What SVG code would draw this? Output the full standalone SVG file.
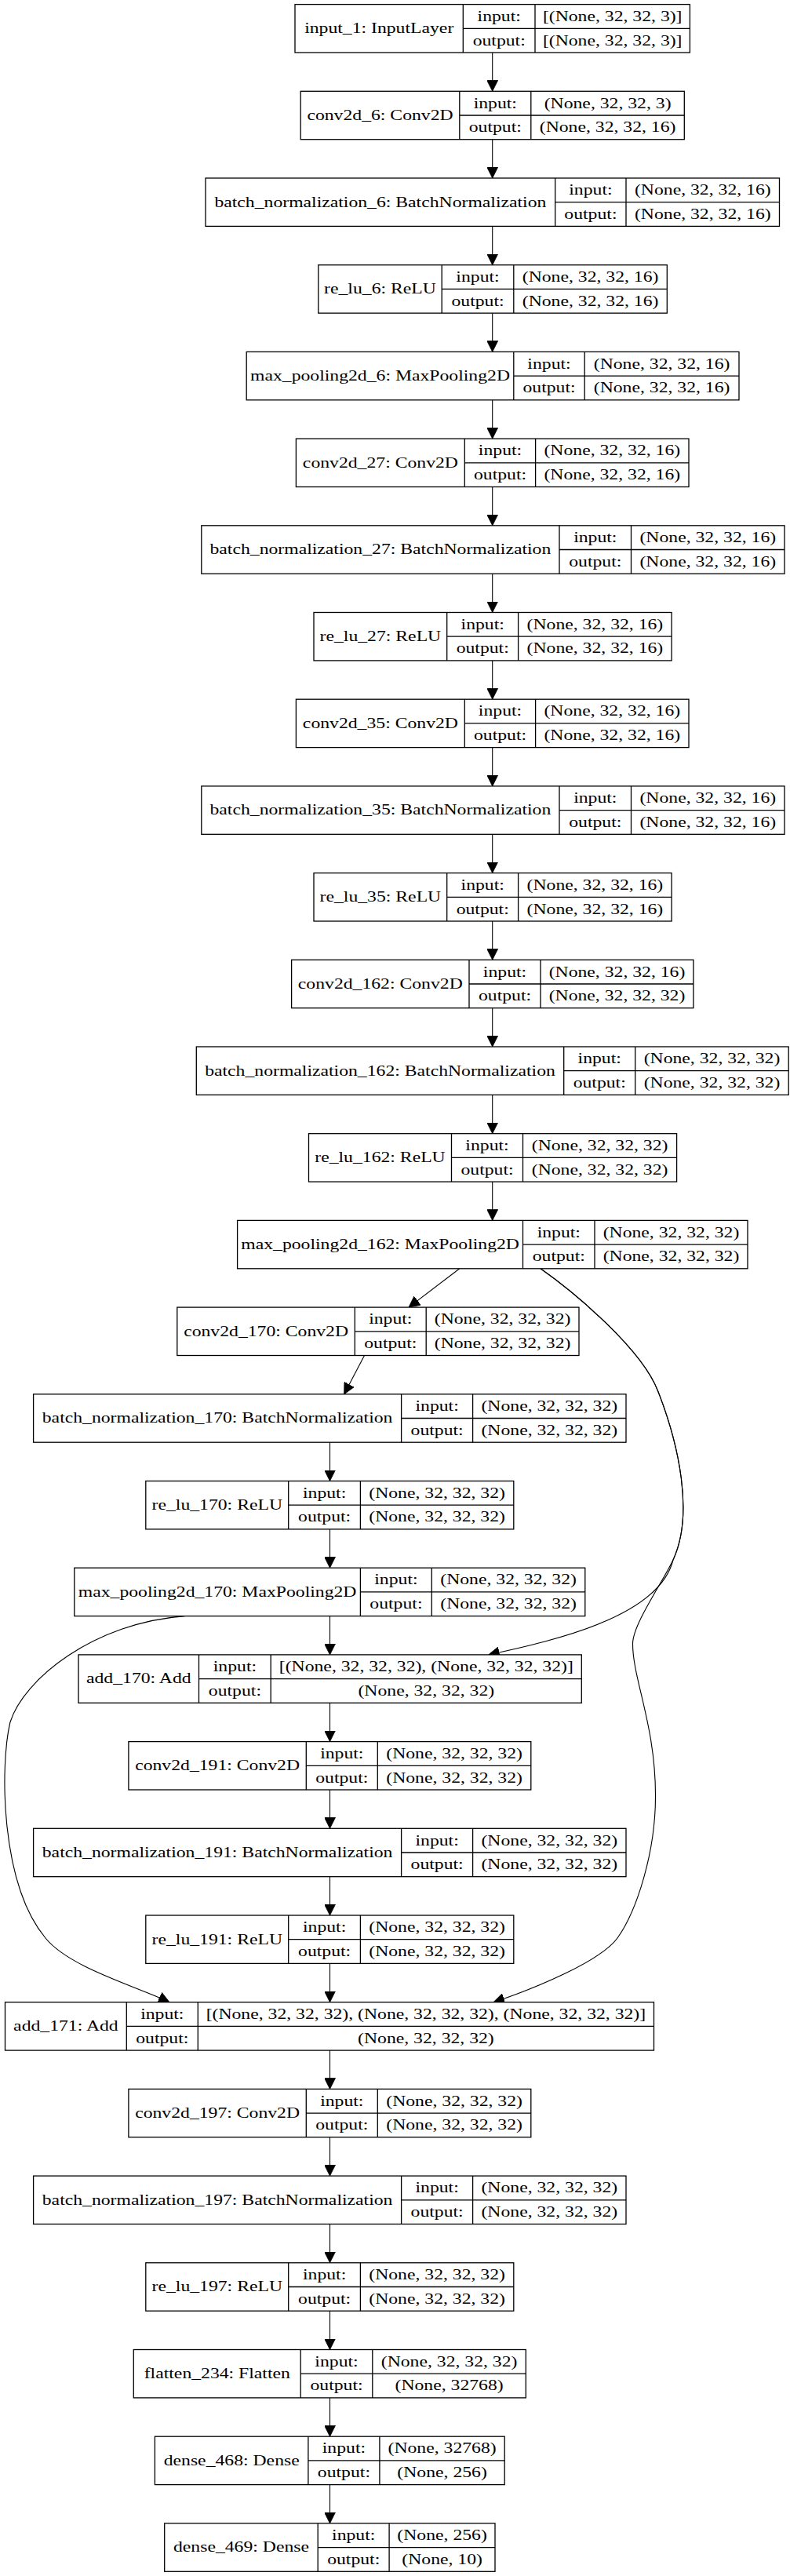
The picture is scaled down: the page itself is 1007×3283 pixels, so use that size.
<svg xmlns="http://www.w3.org/2000/svg" width="1007" height="3283" viewBox="0 0 1007 3283">
<defs>
<style>
.b{fill:#fff;stroke:#000;stroke-width:1.3}
.d{fill:none;stroke:#000;stroke-width:1.3}
.t{font-family:"Liberation Serif","Times New Roman",serif;font-size:18px;text-anchor:middle;fill:#000}
.e{fill:none;stroke:#000;stroke-width:1.1;marker-end:url(#ah)}
</style>
<marker id="ah" markerUnits="userSpaceOnUse" viewBox="0 0 14 14" markerWidth="14" markerHeight="14" refX="14" refY="7" orient="auto">
<path d="M0,0 L14,7 L0,14 z" fill="#000" stroke="#000" stroke-width="0.8"/>
</marker>
</defs>
<rect x="0" y="0" width="1007" height="3283" fill="#fff"/>

<g id="connectors">
<path class="e" d="M627.7,67 V116.3"/>
<path class="e" d="M627.7,177.7 V227"/>
<path class="e" d="M627.7,288.4 V337.7"/>
<path class="e" d="M627.7,399.1 V448.4"/>
<path class="e" d="M627.7,509.8 V559.1"/>
<path class="e" d="M627.7,620.5 V669.8"/>
<path class="e" d="M627.7,731.2 V780.5"/>
<path class="e" d="M627.7,841.9 V891.2"/>
<path class="e" d="M627.7,952.6 V1001.9"/>
<path class="e" d="M627.7,1063.3 V1112.6"/>
<path class="e" d="M627.7,1174 V1223.3"/>
<path class="e" d="M627.7,1284.7 V1334"/>
<path class="e" d="M627.7,1395.4 V1444.7"/>
<path class="e" d="M627.7,1506.1 V1555.4"/>
<path class="e" d="M585.8,1616.8 L521,1666.1"/>
<path class="e" d="M689,1616.8 C732,1647 818,1719 838.7,1773 C865,1840 885,1930 858,1988 C840,2060 710,2090 622.6,2108.9"/>
<path class="e" d="M689,1616.8 C732,1647 818,1719 838.7,1773 C865,1840 885,1930 858,1988 C845,2016 806.5,2070 806.5,2095 C806.5,2140 836,2200 835.5,2290 C835.5,2360 812,2435 787,2470 C765,2500 680,2535 629,2551.7"/>
<path class="e" d="M464.5,1727.5 L438.7,1776.8"/>
<path class="e" d="M420.5,1838.2 V1887.5"/>
<path class="e" d="M420.5,1948.9 V1998.2"/>
<path class="e" d="M420.5,2059.6 V2108.9"/>
<path class="e" d="M235.5,2059.6 C120,2068 30,2140 12.9,2195 C0,2250 0,2400 58,2470 C88,2507 170,2530 216,2551.7"/>
<path class="e" d="M420.5,2170.3 V2219.6"/>
<path class="e" d="M420.5,2281 V2330.3"/>
<path class="e" d="M420.5,2391.7 V2441"/>
<path class="e" d="M420.5,2502.4 V2551.7"/>
<path class="e" d="M420.5,2613.1 V2662.4"/>
<path class="e" d="M420.5,2723.8 V2773.1"/>
<path class="e" d="M420.5,2834.5 V2883.8"/>
<path class="e" d="M420.5,2945.2 V2994.5"/>
<path class="e" d="M420.5,3055.9 V3105.2"/>
<path class="e" d="M420.5,3166.6 V3215.9"/>
</g>

<g id="n1">
<rect class="b" x="376" y="5.6" width="503.4" height="61.4"/>
<path class="d" d="M590.3,5.6V67M682,5.6V67M590.3,36.3H879.4"/>
<text class="t" transform="translate(483.2 42.1) scale(1.317 1)">input_1: InputLayer</text>
<text class="t" transform="translate(636.2 26.8) scale(1.317 1)">input:</text>
<text class="t" transform="translate(636.2 57.5) scale(1.317 1)">output:</text>
<text class="t" transform="translate(780.7 26.8) scale(1.317 1)">[(None, 32, 32, 3)]</text>
<text class="t" transform="translate(780.7 57.5) scale(1.317 1)">[(None, 32, 32, 3)]</text>
</g>

<g id="n2">
<rect class="b" x="383.2" y="116.3" width="489.1" height="61.4"/>
<path class="d" d="M585.8,116.3V177.7M676.8,116.3V177.7M585.8,147H872.3"/>
<text class="t" transform="translate(484.5 152.8) scale(1.317 1)">conv2d_6: Conv2D</text>
<text class="t" transform="translate(631.3 137.5) scale(1.317 1)">input:</text>
<text class="t" transform="translate(631.3 168.2) scale(1.317 1)">output:</text>
<text class="t" transform="translate(774.6 137.5) scale(1.317 1)">(None, 32, 32, 3)</text>
<text class="t" transform="translate(774.6 168.2) scale(1.317 1)">(None, 32, 32, 16)</text>
</g>

<g id="n3">
<rect class="b" x="262" y="227" width="731.5" height="61.4"/>
<path class="d" d="M707.7,227V288.4M798,227V288.4M707.7,257.7H993.5"/>
<text class="t" transform="translate(484.9 263.5) scale(1.317 1)">batch_normalization_6: BatchNormalization</text>
<text class="t" transform="translate(752.9 248.2) scale(1.317 1)">input:</text>
<text class="t" transform="translate(752.9 278.9) scale(1.317 1)">output:</text>
<text class="t" transform="translate(895.8 248.2) scale(1.317 1)">(None, 32, 32, 16)</text>
<text class="t" transform="translate(895.8 278.9) scale(1.317 1)">(None, 32, 32, 16)</text>
</g>

<g id="n4">
<rect class="b" x="405.8" y="337.7" width="444.5" height="61.4"/>
<path class="d" d="M563.2,337.7V399.1M654.8,337.7V399.1M563.2,368.4H850.3"/>
<text class="t" transform="translate(484.5 374.2) scale(1.317 1)">re_lu_6: ReLU</text>
<text class="t" transform="translate(609 358.9) scale(1.317 1)">input:</text>
<text class="t" transform="translate(609 389.6) scale(1.317 1)">output:</text>
<text class="t" transform="translate(752.6 358.9) scale(1.317 1)">(None, 32, 32, 16)</text>
<text class="t" transform="translate(752.6 389.6) scale(1.317 1)">(None, 32, 32, 16)</text>
</g>

<g id="n5">
<rect class="b" x="314.2" y="448.4" width="627.8" height="61.4"/>
<path class="d" d="M654.8,448.4V509.8M745.2,448.4V509.8M654.8,479.1H942"/>
<text class="t" transform="translate(484.5 484.9) scale(1.317 1)">max_pooling2d_6: MaxPooling2D</text>
<text class="t" transform="translate(700 469.6) scale(1.317 1)">input:</text>
<text class="t" transform="translate(700 500.3) scale(1.317 1)">output:</text>
<text class="t" transform="translate(843.6 469.6) scale(1.317 1)">(None, 32, 32, 16)</text>
<text class="t" transform="translate(843.6 500.3) scale(1.317 1)">(None, 32, 32, 16)</text>
</g>

<g id="n6">
<rect class="b" x="377.4" y="559.1" width="500.6" height="61.4"/>
<path class="d" d="M592.3,559.1V620.5M682.6,559.1V620.5M592.3,589.8H878"/>
<text class="t" transform="translate(484.9 595.6) scale(1.317 1)">conv2d_27: Conv2D</text>
<text class="t" transform="translate(637.5 580.3) scale(1.317 1)">input:</text>
<text class="t" transform="translate(637.5 611) scale(1.317 1)">output:</text>
<text class="t" transform="translate(780.3 580.3) scale(1.317 1)">(None, 32, 32, 16)</text>
<text class="t" transform="translate(780.3 611) scale(1.317 1)">(None, 32, 32, 16)</text>
</g>

<g id="n7">
<rect class="b" x="256.8" y="669.8" width="743.2" height="61.4"/>
<path class="d" d="M713,669.8V731.2M804.5,669.8V731.2M713,700.5H1000"/>
<text class="t" transform="translate(484.9 706.3) scale(1.317 1)">batch_normalization_27: BatchNormalization</text>
<text class="t" transform="translate(758.8 691) scale(1.317 1)">input:</text>
<text class="t" transform="translate(758.8 721.7) scale(1.317 1)">output:</text>
<text class="t" transform="translate(902.3 691) scale(1.317 1)">(None, 32, 32, 16)</text>
<text class="t" transform="translate(902.3 721.7) scale(1.317 1)">(None, 32, 32, 16)</text>
</g>

<g id="n8">
<rect class="b" x="400" y="780.5" width="456.1" height="61.4"/>
<path class="d" d="M569.7,780.5V841.9M660.6,780.5V841.9M569.7,811.2H856.1"/>
<text class="t" transform="translate(484.9 817) scale(1.317 1)">re_lu_27: ReLU</text>
<text class="t" transform="translate(615.2 801.7) scale(1.317 1)">input:</text>
<text class="t" transform="translate(615.2 832.4) scale(1.317 1)">output:</text>
<text class="t" transform="translate(758.4 801.7) scale(1.317 1)">(None, 32, 32, 16)</text>
<text class="t" transform="translate(758.4 832.4) scale(1.317 1)">(None, 32, 32, 16)</text>
</g>

<g id="n9">
<rect class="b" x="377.4" y="891.2" width="500.6" height="61.4"/>
<path class="d" d="M592.3,891.2V952.6M682.6,891.2V952.6M592.3,921.9H878"/>
<text class="t" transform="translate(484.9 927.7) scale(1.317 1)">conv2d_35: Conv2D</text>
<text class="t" transform="translate(637.5 912.4) scale(1.317 1)">input:</text>
<text class="t" transform="translate(637.5 943.1) scale(1.317 1)">output:</text>
<text class="t" transform="translate(780.3 912.4) scale(1.317 1)">(None, 32, 32, 16)</text>
<text class="t" transform="translate(780.3 943.1) scale(1.317 1)">(None, 32, 32, 16)</text>
</g>

<g id="n10">
<rect class="b" x="256.8" y="1001.9" width="743.2" height="61.4"/>
<path class="d" d="M713,1001.9V1063.3M804.5,1001.9V1063.3M713,1032.6H1000"/>
<text class="t" transform="translate(484.9 1038.4) scale(1.317 1)">batch_normalization_35: BatchNormalization</text>
<text class="t" transform="translate(758.8 1023.1) scale(1.317 1)">input:</text>
<text class="t" transform="translate(758.8 1053.8) scale(1.317 1)">output:</text>
<text class="t" transform="translate(902.3 1023.1) scale(1.317 1)">(None, 32, 32, 16)</text>
<text class="t" transform="translate(902.3 1053.8) scale(1.317 1)">(None, 32, 32, 16)</text>
</g>

<g id="n11">
<rect class="b" x="400" y="1112.6" width="456.1" height="61.4"/>
<path class="d" d="M569.7,1112.6V1174M660.6,1112.6V1174M569.7,1143.3H856.1"/>
<text class="t" transform="translate(484.9 1149.1) scale(1.317 1)">re_lu_35: ReLU</text>
<text class="t" transform="translate(615.2 1133.8) scale(1.317 1)">input:</text>
<text class="t" transform="translate(615.2 1164.5) scale(1.317 1)">output:</text>
<text class="t" transform="translate(758.4 1133.8) scale(1.317 1)">(None, 32, 32, 16)</text>
<text class="t" transform="translate(758.4 1164.5) scale(1.317 1)">(None, 32, 32, 16)</text>
</g>

<g id="n12">
<rect class="b" x="371.6" y="1223.3" width="512.3" height="61.4"/>
<path class="d" d="M598,1223.3V1284.7M689,1223.3V1284.7M598,1254H883.9"/>
<text class="t" transform="translate(484.8 1259.8) scale(1.317 1)">conv2d_162: Conv2D</text>
<text class="t" transform="translate(643.5 1244.5) scale(1.317 1)">input:</text>
<text class="t" transform="translate(643.5 1275.2) scale(1.317 1)">output:</text>
<text class="t" transform="translate(786.5 1244.5) scale(1.317 1)">(None, 32, 32, 16)</text>
<text class="t" transform="translate(786.5 1275.2) scale(1.317 1)">(None, 32, 32, 32)</text>
</g>

<g id="n13">
<rect class="b" x="250.3" y="1334" width="754.9" height="61.4"/>
<path class="d" d="M718.7,1334V1395.4M809.7,1334V1395.4M718.7,1364.7H1005.2"/>
<text class="t" transform="translate(484.5 1370.5) scale(1.317 1)">batch_normalization_162: BatchNormalization</text>
<text class="t" transform="translate(764.2 1355.2) scale(1.317 1)">input:</text>
<text class="t" transform="translate(764.2 1385.9) scale(1.317 1)">output:</text>
<text class="t" transform="translate(907.5 1355.2) scale(1.317 1)">(None, 32, 32, 32)</text>
<text class="t" transform="translate(907.5 1385.9) scale(1.317 1)">(None, 32, 32, 32)</text>
</g>

<g id="n14">
<rect class="b" x="393.5" y="1444.7" width="469.1" height="61.4"/>
<path class="d" d="M575.5,1444.7V1506.1M666.5,1444.7V1506.1M575.5,1475.4H862.6"/>
<text class="t" transform="translate(484.5 1481.2) scale(1.317 1)">re_lu_162: ReLU</text>
<text class="t" transform="translate(621 1465.9) scale(1.317 1)">input:</text>
<text class="t" transform="translate(621 1496.6) scale(1.317 1)">output:</text>
<text class="t" transform="translate(764.6 1465.9) scale(1.317 1)">(None, 32, 32, 32)</text>
<text class="t" transform="translate(764.6 1496.6) scale(1.317 1)">(None, 32, 32, 32)</text>
</g>

<g id="n15">
<rect class="b" x="302.6" y="1555.4" width="650.4" height="61.4"/>
<path class="d" d="M666.5,1555.4V1616.8M758,1555.4V1616.8M666.5,1586.1H953"/>
<text class="t" transform="translate(484.6 1591.9) scale(1.317 1)">max_pooling2d_162: MaxPooling2D</text>
<text class="t" transform="translate(712.3 1576.6) scale(1.317 1)">input:</text>
<text class="t" transform="translate(712.3 1607.3) scale(1.317 1)">output:</text>
<text class="t" transform="translate(855.5 1576.6) scale(1.317 1)">(None, 32, 32, 32)</text>
<text class="t" transform="translate(855.5 1607.3) scale(1.317 1)">(None, 32, 32, 32)</text>
</g>

<g id="n16">
<rect class="b" x="225.8" y="1666.1" width="512.2" height="61.4"/>
<path class="d" d="M452.3,1666.1V1727.5M543.2,1666.1V1727.5M452.3,1696.8H738"/>
<text class="t" transform="translate(339.1 1702.6) scale(1.317 1)">conv2d_170: Conv2D</text>
<text class="t" transform="translate(497.8 1687.3) scale(1.317 1)">input:</text>
<text class="t" transform="translate(497.8 1718) scale(1.317 1)">output:</text>
<text class="t" transform="translate(640.6 1687.3) scale(1.317 1)">(None, 32, 32, 32)</text>
<text class="t" transform="translate(640.6 1718) scale(1.317 1)">(None, 32, 32, 32)</text>
</g>

<g id="n17">
<rect class="b" x="42.6" y="1776.8" width="755.4" height="61.4"/>
<path class="d" d="M511.6,1776.8V1838.2M602.6,1776.8V1838.2M511.6,1807.5H798"/>
<text class="t" transform="translate(277.1 1813.3) scale(1.317 1)">batch_normalization_170: BatchNormalization</text>
<text class="t" transform="translate(557.1 1798) scale(1.317 1)">input:</text>
<text class="t" transform="translate(557.1 1828.7) scale(1.317 1)">output:</text>
<text class="t" transform="translate(700.3 1798) scale(1.317 1)">(None, 32, 32, 32)</text>
<text class="t" transform="translate(700.3 1828.7) scale(1.317 1)">(None, 32, 32, 32)</text>
</g>

<g id="n18">
<rect class="b" x="185.8" y="1887.5" width="469" height="61.4"/>
<path class="d" d="M367.7,1887.5V1948.9M459.4,1887.5V1948.9M367.7,1918.2H654.8"/>
<text class="t" transform="translate(276.8 1924) scale(1.317 1)">re_lu_170: ReLU</text>
<text class="t" transform="translate(413.6 1908.7) scale(1.317 1)">input:</text>
<text class="t" transform="translate(413.6 1939.4) scale(1.317 1)">output:</text>
<text class="t" transform="translate(557.1 1908.7) scale(1.317 1)">(None, 32, 32, 32)</text>
<text class="t" transform="translate(557.1 1939.4) scale(1.317 1)">(None, 32, 32, 32)</text>
</g>

<g id="n19">
<rect class="b" x="94.8" y="1998.2" width="651" height="61.4"/>
<path class="d" d="M459.4,1998.2V2059.6M550.3,1998.2V2059.6M459.4,2028.9H745.8"/>
<text class="t" transform="translate(277.1 2034.7) scale(1.317 1)">max_pooling2d_170: MaxPooling2D</text>
<text class="t" transform="translate(504.9 2019.4) scale(1.317 1)">input:</text>
<text class="t" transform="translate(504.9 2050.1) scale(1.317 1)">output:</text>
<text class="t" transform="translate(648.1 2019.4) scale(1.317 1)">(None, 32, 32, 32)</text>
<text class="t" transform="translate(648.1 2050.1) scale(1.317 1)">(None, 32, 32, 32)</text>
</g>

<g id="n20">
<rect class="b" x="100" y="2108.9" width="641.3" height="61.4"/>
<path class="d" d="M253.5,2108.9V2170.3M345.2,2108.9V2170.3M253.5,2139.6H741.3"/>
<text class="t" transform="translate(176.8 2145.4) scale(1.317 1)">add_170: Add</text>
<text class="t" transform="translate(299.4 2130.1) scale(1.317 1)">input:</text>
<text class="t" transform="translate(299.4 2160.8) scale(1.317 1)">output:</text>
<text class="t" transform="translate(543.3 2130.1) scale(1.317 1)">[(None, 32, 32, 32), (None, 32, 32, 32)]</text>
<text class="t" transform="translate(543.3 2160.8) scale(1.317 1)">(None, 32, 32, 32)</text>
</g>

<g id="n21">
<rect class="b" x="163.9" y="2219.6" width="512.9" height="61.4"/>
<path class="d" d="M390.3,2219.6V2281M481.3,2219.6V2281M390.3,2250.3H676.8"/>
<text class="t" transform="translate(277.1 2256.1) scale(1.317 1)">conv2d_191: Conv2D</text>
<text class="t" transform="translate(435.8 2240.8) scale(1.317 1)">input:</text>
<text class="t" transform="translate(435.8 2271.5) scale(1.317 1)">output:</text>
<text class="t" transform="translate(579.1 2240.8) scale(1.317 1)">(None, 32, 32, 32)</text>
<text class="t" transform="translate(579.1 2271.5) scale(1.317 1)">(None, 32, 32, 32)</text>
</g>

<g id="n22">
<rect class="b" x="42.6" y="2330.3" width="755.4" height="61.4"/>
<path class="d" d="M511.6,2330.3V2391.7M602.6,2330.3V2391.7M511.6,2361H798"/>
<text class="t" transform="translate(277.1 2366.8) scale(1.317 1)">batch_normalization_191: BatchNormalization</text>
<text class="t" transform="translate(557.1 2351.5) scale(1.317 1)">input:</text>
<text class="t" transform="translate(557.1 2382.2) scale(1.317 1)">output:</text>
<text class="t" transform="translate(700.3 2351.5) scale(1.317 1)">(None, 32, 32, 32)</text>
<text class="t" transform="translate(700.3 2382.2) scale(1.317 1)">(None, 32, 32, 32)</text>
</g>

<g id="n23">
<rect class="b" x="185.8" y="2441" width="469" height="61.4"/>
<path class="d" d="M367.7,2441V2502.4M459.4,2441V2502.4M367.7,2471.7H654.8"/>
<text class="t" transform="translate(276.8 2477.5) scale(1.317 1)">re_lu_191: ReLU</text>
<text class="t" transform="translate(413.6 2462.2) scale(1.317 1)">input:</text>
<text class="t" transform="translate(413.6 2492.9) scale(1.317 1)">output:</text>
<text class="t" transform="translate(557.1 2462.2) scale(1.317 1)">(None, 32, 32, 32)</text>
<text class="t" transform="translate(557.1 2492.9) scale(1.317 1)">(None, 32, 32, 32)</text>
</g>

<g id="n24">
<rect class="b" x="6.5" y="2551.7" width="827" height="61.4"/>
<path class="d" d="M161.3,2551.7V2613.1M252.3,2551.7V2613.1M161.3,2582.4H833.5"/>
<text class="t" transform="translate(83.9 2588.2) scale(1.317 1)">add_171: Add</text>
<text class="t" transform="translate(206.8 2572.9) scale(1.317 1)">input:</text>
<text class="t" transform="translate(206.8 2603.6) scale(1.317 1)">output:</text>
<text class="t" transform="translate(542.9 2572.9) scale(1.317 1)">[(None, 32, 32, 32), (None, 32, 32, 32), (None, 32, 32, 32)]</text>
<text class="t" transform="translate(542.9 2603.6) scale(1.317 1)">(None, 32, 32, 32)</text>
</g>

<g id="n25">
<rect class="b" x="163.9" y="2662.4" width="512.9" height="61.4"/>
<path class="d" d="M390.3,2662.4V2723.8M481.3,2662.4V2723.8M390.3,2693.1H676.8"/>
<text class="t" transform="translate(277.1 2698.9) scale(1.317 1)">conv2d_197: Conv2D</text>
<text class="t" transform="translate(435.8 2683.6) scale(1.317 1)">input:</text>
<text class="t" transform="translate(435.8 2714.3) scale(1.317 1)">output:</text>
<text class="t" transform="translate(579.1 2683.6) scale(1.317 1)">(None, 32, 32, 32)</text>
<text class="t" transform="translate(579.1 2714.3) scale(1.317 1)">(None, 32, 32, 32)</text>
</g>

<g id="n26">
<rect class="b" x="42.6" y="2773.1" width="755.4" height="61.4"/>
<path class="d" d="M511.6,2773.1V2834.5M602.6,2773.1V2834.5M511.6,2803.8H798"/>
<text class="t" transform="translate(277.1 2809.6) scale(1.317 1)">batch_normalization_197: BatchNormalization</text>
<text class="t" transform="translate(557.1 2794.3) scale(1.317 1)">input:</text>
<text class="t" transform="translate(557.1 2825) scale(1.317 1)">output:</text>
<text class="t" transform="translate(700.3 2794.3) scale(1.317 1)">(None, 32, 32, 32)</text>
<text class="t" transform="translate(700.3 2825) scale(1.317 1)">(None, 32, 32, 32)</text>
</g>

<g id="n27">
<rect class="b" x="185.8" y="2883.8" width="469" height="61.4"/>
<path class="d" d="M367.7,2883.8V2945.2M459.4,2883.8V2945.2M367.7,2914.5H654.8"/>
<text class="t" transform="translate(276.8 2920.3) scale(1.317 1)">re_lu_197: ReLU</text>
<text class="t" transform="translate(413.6 2905) scale(1.317 1)">input:</text>
<text class="t" transform="translate(413.6 2935.7) scale(1.317 1)">output:</text>
<text class="t" transform="translate(557.1 2905) scale(1.317 1)">(None, 32, 32, 32)</text>
<text class="t" transform="translate(557.1 2935.7) scale(1.317 1)">(None, 32, 32, 32)</text>
</g>

<g id="n28">
<rect class="b" x="170.3" y="2994.5" width="500" height="61.4"/>
<path class="d" d="M383.2,2994.5V3055.9M474.8,2994.5V3055.9M383.2,3025.2H670.3"/>
<text class="t" transform="translate(276.8 3031) scale(1.317 1)">flatten_234: Flatten</text>
<text class="t" transform="translate(429 3015.7) scale(1.317 1)">input:</text>
<text class="t" transform="translate(429 3046.4) scale(1.317 1)">output:</text>
<text class="t" transform="translate(572.6 3015.7) scale(1.317 1)">(None, 32, 32, 32)</text>
<text class="t" transform="translate(572.6 3046.4) scale(1.317 1)">(None, 32768)</text>
</g>

<g id="n29">
<rect class="b" x="197.4" y="3105.2" width="445.8" height="61.4"/>
<path class="d" d="M392.9,3105.2V3166.6M483.9,3105.2V3166.6M392.9,3135.9H643.2"/>
<text class="t" transform="translate(295.2 3141.7) scale(1.317 1)">dense_468: Dense</text>
<text class="t" transform="translate(438.4 3126.4) scale(1.317 1)">input:</text>
<text class="t" transform="translate(438.4 3157.1) scale(1.317 1)">output:</text>
<text class="t" transform="translate(563.6 3126.4) scale(1.317 1)">(None, 32768)</text>
<text class="t" transform="translate(563.6 3157.1) scale(1.317 1)">(None, 256)</text>
</g>

<g id="n30">
<rect class="b" x="209.7" y="3215.9" width="421.3" height="61.4"/>
<path class="d" d="M405.2,3215.9V3277.3M496.1,3215.9V3277.3M405.2,3246.6H631"/>
<text class="t" transform="translate(307.5 3252.4) scale(1.317 1)">dense_469: Dense</text>
<text class="t" transform="translate(450.7 3237.1) scale(1.317 1)">input:</text>
<text class="t" transform="translate(450.7 3267.8) scale(1.317 1)">output:</text>
<text class="t" transform="translate(563.6 3237.1) scale(1.317 1)">(None, 256)</text>
<text class="t" transform="translate(563.6 3267.8) scale(1.317 1)">(None, 10)</text>
</g>
</svg>
